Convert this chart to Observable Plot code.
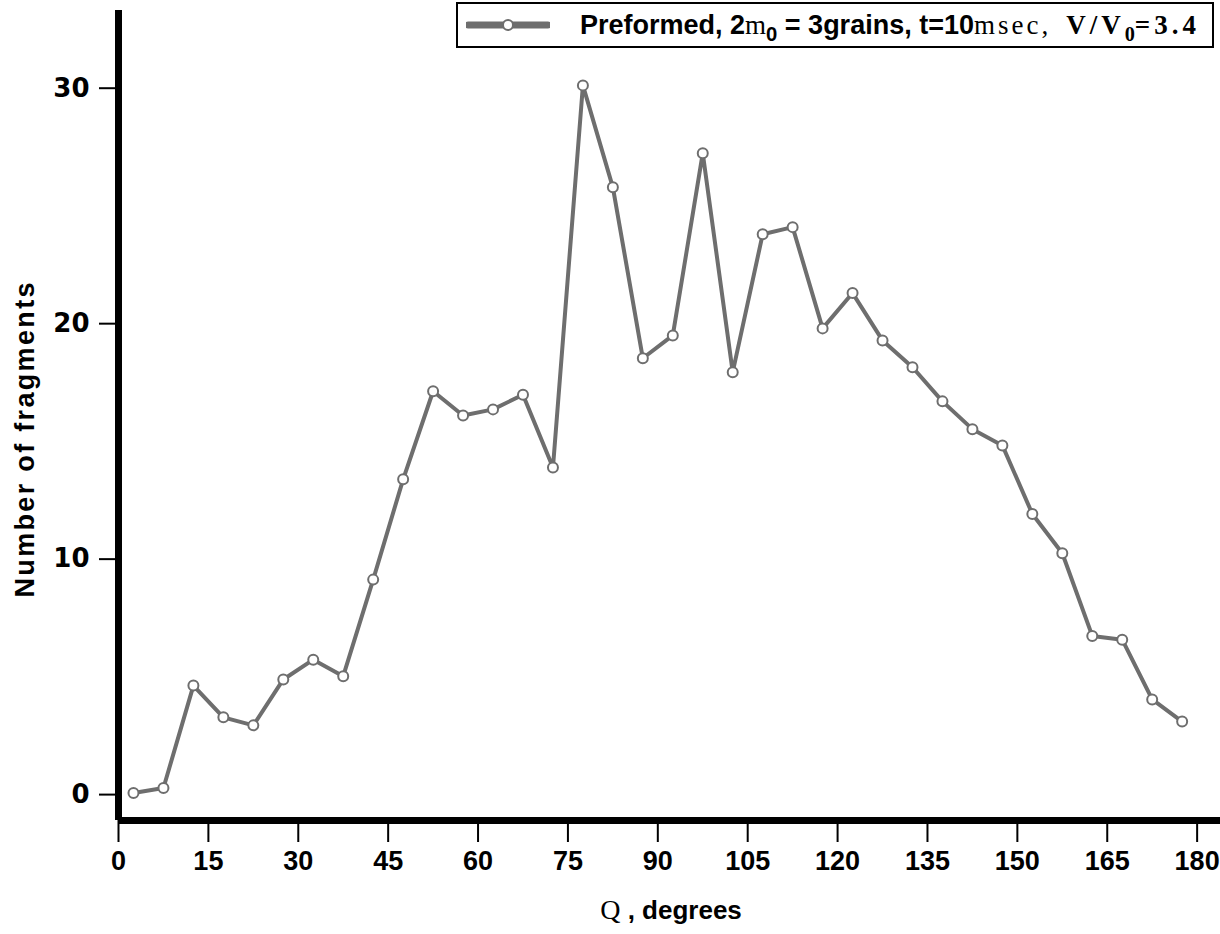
<!DOCTYPE html>
<html>
<head>
<meta charset="utf-8">
<script src="https://cdn.jsdelivr.net/npm/d3@7"></script>
<script src="https://cdn.jsdelivr.net/npm/@observablehq/plot@0.6"></script>
<style>
  body { margin: 0; background: #fff; }
  #wrap { position: relative; width: 1220px; height: 934px; }
  #legend {
    position: absolute; left: 456px; top: 2px; width: 754px; height: 42px;
    border: 2px solid #000; background: #fff; display: flex; align-items: center;
    font-family: "Liberation Sans", Arial, sans-serif;
    font-weight: bold; font-size: 27px; color: #000; white-space: nowrap;
  }
  #legend svg { margin-left: 8px; margin-right: 30px; flex: none; }
  .serif { font-family: "Liberation Serif", "Times New Roman", serif; font-weight: normal; font-size: 27px; letter-spacing: 3px; }
  .serifm { font-family: "Liberation Serif", "Times New Roman", serif; font-weight: normal; }
  .serifb { font-family: "Liberation Serif", "Times New Roman", serif; font-weight: bold; font-size: 27px; letter-spacing: 4px; }
  sub { font-size: 0.75em; vertical-align: -0.35em; line-height: 0; letter-spacing: 0; }
</style>
</head>
<body>
<div id="wrap"></div>
<script>
const angles = [2.5, 7.5, 12.5, 17.5, 22.5, 27.5, 32.5, 37.5, 42.5, 47.5, 52.5, 57.5,
                62.5, 67.5, 72.5, 77.5, 82.5, 87.5, 92.5, 97.5, 102.5, 107.5, 112.5, 117.5,
                122.5, 127.5, 132.5, 137.5, 142.5, 147.5, 152.5, 157.5, 162.5, 167.5, 172.5, 177.5];
const counts = [0.07, 0.28, 4.63, 3.28, 2.94, 4.89, 5.73, 5.03, 9.13, 13.39, 17.13, 16.10,
                16.36, 16.98, 13.89, 30.12, 25.79, 18.53, 19.5, 27.24, 17.94, 23.80, 24.1, 19.80,
                21.30, 19.29, 18.15, 16.70, 15.52, 14.83, 11.92, 10.25, 6.74, 6.58, 4.04, 3.10];
const xTicks = [0, 15, 30, 45, 60, 75, 90, 105, 120, 135, 150, 165, 180];
const yTicks = [0, 10, 20, 30];
const yLabel = "Number of fragments";
const xLabelSymbol = "Q";
const xLabelText = " , degrees";

const data = angles.map((a, i) => ({angle: a, count: counts[i]}));
const gray = "#6e6e6e";

const plot = Plot.plot({
  width: 1220,
  height: 934,
  marginLeft: 118,
  marginRight: 0,
  marginTop: 10,
  marginBottom: 114,
  style: {background: "#fff", color: "#000", overflow: "visible"},
  x: {domain: [0, 183.9]},
  y: {domain: [-1.1, 33.3]},
  marks: [
    Plot.axisY(yTicks, {
      tickSize: 19, tickPadding: 10, label: null, strokeWidth: 2,
      fontSize: 26, fontWeight: "bold", fontFamily: "DejaVu Sans, sans-serif"
    }),
    Plot.axisX(xTicks, {
      tickSize: 22, tickPadding: 8, label: null, strokeWidth: 2,
      fontSize: 27, fontWeight: "bold", fontFamily: "Liberation Sans Narrow, Arial Narrow, Liberation Sans, sans-serif"
    }),
    Plot.ruleX([0], {stroke: "#000", strokeWidth: 7}),
    Plot.ruleY([-1.1], {stroke: "#000", strokeWidth: 7}),
    Plot.line(data, {x: "angle", y: "count", stroke: gray, strokeWidth: 4}),
    Plot.dot(data, {x: "angle", y: "count", r: 5, fill: "#fff", stroke: gray, strokeWidth: 2})
  ]
});

const svg = d3.select(plot);
// y-axis title
svg.append("text")
  .attr("transform", "translate(34,440) rotate(-90)")
  .attr("text-anchor", "middle")
  .attr("font-family", "Liberation Sans, Arial, sans-serif")
  .attr("font-weight", "bold")
  .attr("font-size", 27)
  .attr("textLength", 315)
  .attr("lengthAdjust", "spacing")
  .attr("fill", "#000")
  .text(yLabel);
// x-axis title
const xt = svg.append("text")
  .attr("x", 671).attr("y", 919)
  .attr("text-anchor", "middle")
  .attr("font-size", 26)
  .attr("fill", "#000")
  .attr("xml:space", "preserve")
  .style("white-space", "pre");
xt.append("tspan").attr("font-family", "Liberation Serif, serif").attr("font-size", 28).text(xLabelSymbol);
xt.append("tspan").attr("font-family", "Liberation Sans, Arial, sans-serif").attr("font-weight", "bold").text(xLabelText);

const wrap = document.getElementById("wrap");
wrap.appendChild(plot);

// legend
const legend = document.createElement("div");
legend.id = "legend";
legend.innerHTML = `<svg width="84" height="20"><line x1="2" x2="82" y1="10" y2="10" stroke="${gray}" stroke-width="7" stroke-linecap="round"/><circle cx="42" cy="10" r="5" fill="#fff" stroke="${gray}" stroke-width="2"/></svg>` +
  `<span>Preformed, 2<span class="serifm">m</span><sub>0</sub> = 3grains, t=10<span class="serif">msec,</span>&nbsp;&nbsp;<span class="serifb">V/V<sub>0</sub>=3.4</span></span>`;
wrap.appendChild(legend);
</script>
</body>
</html>
